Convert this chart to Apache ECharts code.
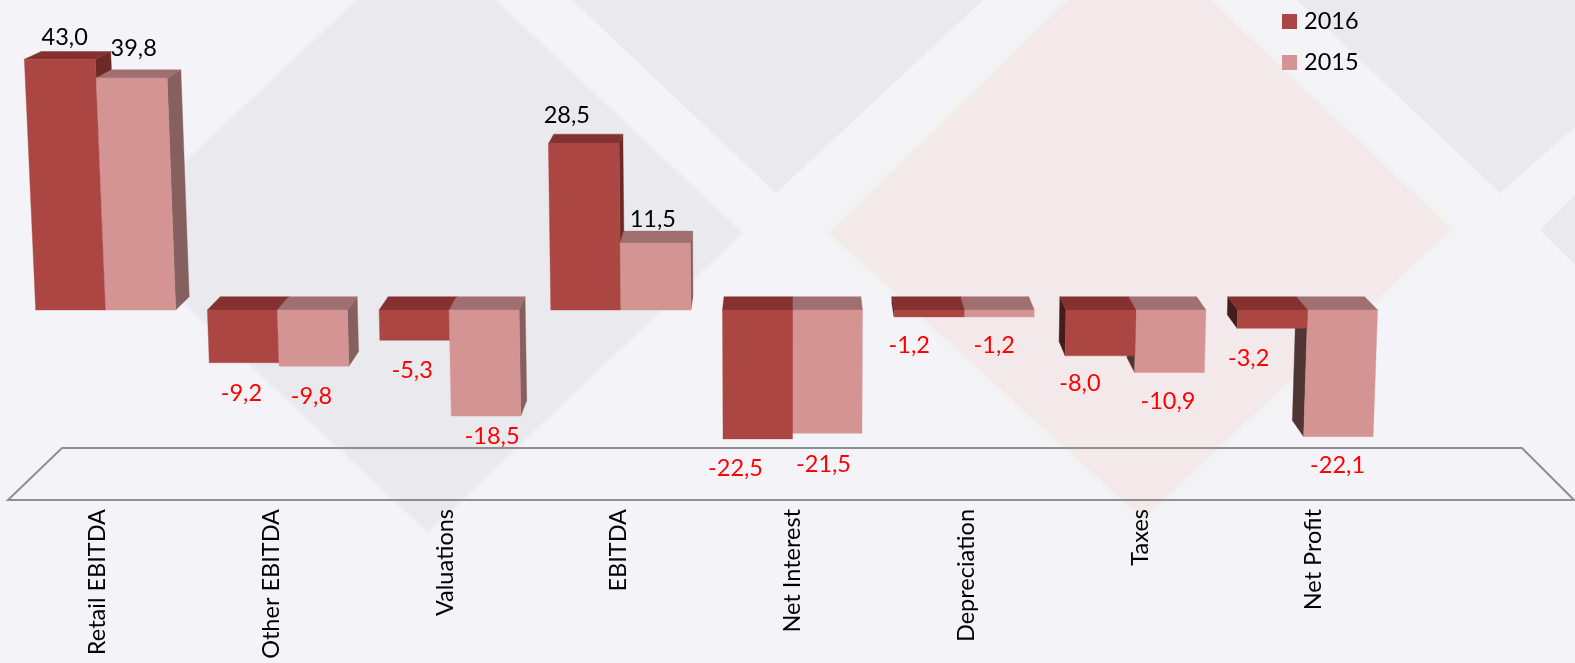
<!DOCTYPE html>
<html>
<head>
<meta charset="utf-8">
<style>html,body{margin:0;padding:0;background:#F3F3F8}#c{width:1575px;height:663px}</style>
<script src="https://cdn.jsdelivr.net/npm/echarts@6/dist/echarts.min.js"></script>
</head>
<body>
<div id="c"></div>
<script>
const categories = ['Retail EBITDA','Other EBITDA','Valuations','EBITDA','Net Interest','Depreciation','Taxes','Net Profit'];
const values2016 = [43.0,-9.2,-5.3,28.5,-22.5,-1.2,-8.0,-3.2];
const values2015 = [39.8,-9.8,-18.5,11.5,-21.5,-1.2,-10.9,-22.1];

// label nudges relative to each bar's end, layout only
const labelNudge2016 = [[-6,-22],[-1,31],[-2,30],[-19,-28],[-22,29],[-20,29],[-21,28],[-24,30]];
const labelNudge2015 = [[-7,-30],[-1,30],[8,20],[-3,-24],[-4,31],[-5,29],[-3,29],[-5,29]];

const FONT = 'Lato';
const FONT_SIZE = 23.5;
const VP = {x: 790, y: -295};   // vanishing point of the depth edges
const DEPTH = 0.022;            // depth as a share of the distance to VP
const SKEW = 6e-5;              // keystone lean of the verticals
const BELOW = 0.983;            // the scale runs slightly shorter under the baseline
const BAR_SHARE = 70 / 171.7;

function back(p){ return [p[0] + (VP.x - p[0]) * DEPTH, p[1] + (VP.y - p[1]) * DEPTH]; }

function barRenderer(side, colors, nudges){
  return function(params, api){
    const i = api.value(0), v = api.value(1);
    const base = api.coord([i, 0]);
    const tip = api.coord([i, v]);
    const w = api.size([1, 0])[0] * BAR_SHARE;
    const y0 = base[1];
    const yEnd = v < 0 ? y0 + (tip[1] - y0) * BELOW : tip[1];
    const xL = side < 0 ? base[0] - w : base[0];
    const xR = xL + w;
    const lean = (X, y) => [VP.x + (X - VP.x) * (1 - SKEW * (y - y0)), y];
    const yTop = Math.min(y0, yEnd), yBot = Math.max(y0, yEnd);
    const fTL = lean(xL, yTop), fTR = lean(xR, yTop), fBR = lean(xR, yBot), fBL = lean(xL, yBot);
    const z = (side < 0) === (base[0] < VP.x) ? 0 : 10;
    const poly = (pts, fill, z2) => ({type:'polygon', z2, shape:{points:pts},
      style:{fill, stroke:fill, lineWidth:0.4}});
    const kids = [];
    if (xR < VP.x) kids.push(poly([fTR, back(fTR), back(fBR), fBR], colors.right, z));
    if (xL > VP.x) kids.push(poly([fTL, back(fTL), back(fBL), fBL], colors.left, z));
    kids.push(poly([fTL, back(fTL), back(fTR), fTR], colors.top, z + 1));
    kids.push(poly([fTL, fTR, fBR, fBL], colors.front, z + 2));
    const n = nudges[i];
    kids.push({type:'text', z2: 50, style:{
      x: (xL + xR) / 2 + n[0], y: yEnd + n[1], text: v.toFixed(1).replace('.', ','),
      fill: v < 0 ? '#FF0000' : '#000000', font: FONT_SIZE + 'px ' + FONT,
      align:'center', verticalAlign:'middle'}});
    return {type:'group', children:kids};
  };
}

const colors2016 = {front:'#AB4642', top:'#843130', right:'#6E2825', left:'#451C19'};
const colors2015 = {front:'#D39493', top:'#A07070', right:'#86605E', left:'#503535'};

const poly = (points, fill, stroke, lineWidth) => ({type:'polygon', silent:true, z:-1,
  shape:{points}, style:{fill, stroke:stroke||fill, lineWidth:lineWidth||0}});

const option = {
  backgroundColor:'#F3F3F8',
  animation:false,
  textStyle:{fontFamily:FONT},
  legend:{
    orient:'vertical', left:1282, top:8.5, padding:0, itemWidth:15, itemHeight:15, itemGap:15,
    icon:'rect', selectedMode:false,
    textStyle:{fontFamily:FONT, fontSize:FONT_SIZE, color:'#000', lineHeight:26, padding:[0,0,0,2]},
    data:['2016','2015']
  },
  grid:[
    {left:19.85, width:1373.6, top:18.5, height:466.4},
    {left:10.6, width:1390, top:502, height:1}
  ],
  xAxis:[
    {type:'category', gridIndex:0, data:categories, show:false},
    {type:'category', gridIndex:1, data:categories, position:'bottom',
     axisLine:{show:false}, axisTick:{show:false},
     axisLabel:{rotate:90, interval:0, margin:6, fontFamily:FONT, fontSize:FONT_SIZE, color:'#000'}}
  ],
  yAxis:[
    {type:'value', gridIndex:0, min:-30, max:50, show:false},
    {type:'value', gridIndex:1, show:false, min:0, max:1}
  ],
  graphic:{elements:[
    poly([[426,-66],[743,233],[428,533],[109,233]], '#E9E9EE', '#F0F0F4', 3),
    poly([[572,0],[776,193],[983,0]], '#E9E9EE'),
    poly([[1297,0],[1500,193],[1575,127],[1575,0]], '#E9E9EE'),
    poly([[1575,195],[1540,230],[1575,265]], '#E9E9EE'),
    poly([[1138,-72],[1455,229],[1143,522],[826,233]], '#F3E9EA', '#F2F2F0', 5),
    {type:'polygon', silent:true, z:1, shape:{points:[[62,448],[1522,448],[1574,500],[8,500]]},
     style:{fill:'none', stroke:'#8F8F8F', lineWidth:2}}
  ]},
  series:[
    {name:'2016', type:'custom', xAxisIndex:0, yAxisIndex:0, z:3,
     coordinateSystem:'cartesian2d', itemStyle:{color:colors2016.front},
     encode:{x:0,y:1},
     renderItem:barRenderer(-1, colors2016, labelNudge2016),
     data:values2016.map((v,i)=>[i,v])},
    {name:'2015', type:'custom', xAxisIndex:0, yAxisIndex:0, z:3,
     coordinateSystem:'cartesian2d', itemStyle:{color:colors2015.front},
     encode:{x:0,y:1},
     renderItem:barRenderer(1, colors2015, labelNudge2015),
     data:values2015.map((v,i)=>[i,v])}
  ]
};
const chart = echarts.init(document.getElementById('c'), null, {renderer:'canvas'});
chart.setOption(option);
</script>
</body>
</html>
